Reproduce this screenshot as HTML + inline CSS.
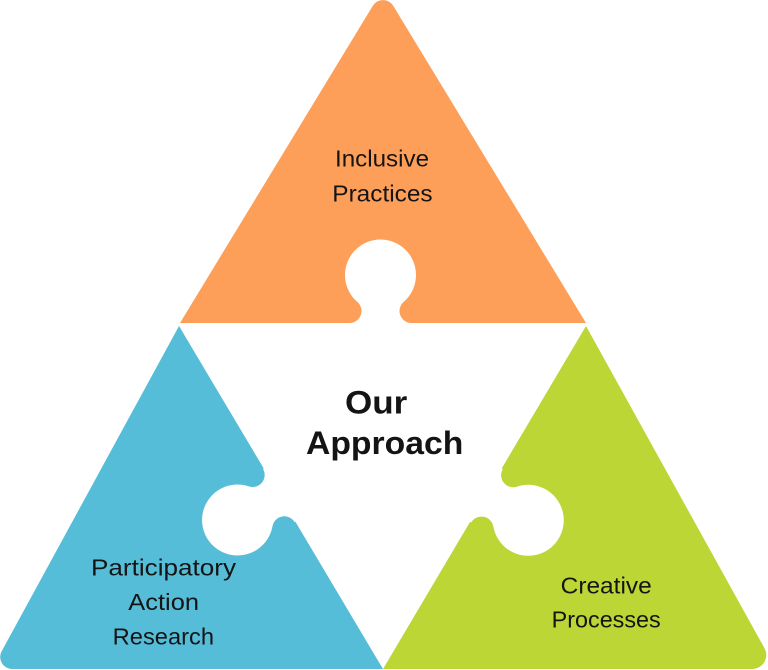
<!DOCTYPE html>
<html>
<head>
<meta charset="utf-8">
<style>
  html, body { margin: 0; padding: 0; background: #ffffff; }
  body { width: 768px; height: 670px; overflow: hidden; }
  svg { display: block; }
  text { font-family: "Liberation Sans", "DejaVu Sans", sans-serif; fill: #141414; }
  .lbl { font-size: 23px; }
  .ttl { font-size: 32px; font-weight: bold; }
</style>
</head>
<body>
<svg width="768" height="670" viewBox="0 0 768 670" xmlns="http://www.w3.org/2000/svg">
  <defs>
    <path id="sock" d="M -31 4 L -31 0 A 12 12 0 0 0 -23.17 -21.09 A 35.5 35.5 0 1 1 23.17 -21.09 A 12 12 0 0 0 31 0 L 31 4 Z"/>
  </defs>

  <!-- Orange (top) -->
  <path d="M 180 323 L 372.75 5.87 A 12 12 0 0 1 393.25 5.87 L 586 323 Z" fill="#FE9F59"/>
  <!-- Blue (bottom-left) -->
  <path d="M 179 326 L 383 669 L 12.2 669 A 12 12 0 0 1 1.67 651.26 Z" fill="#55BDD8"/>
  <!-- Green (bottom-right) -->
  <path d="M 586 326 L 764.48 648.2 A 14 14 0 0 1 752.2 669 L 383 669 Z" fill="#BBD635"/>

  <!-- Puzzle sockets (white tabs of the centre piece) -->
  <use href="#sock" fill="#ffffff" transform="translate(380.5,323)"/>
  <use href="#sock" fill="#ffffff" transform="translate(278.8,495.5) rotate(-120.7)"/>
  <use href="#sock" fill="#ffffff" transform="translate(487,495.8) rotate(120.7)"/>

  <!-- Labels -->
  <text class="lbl" x="335" y="166.7" textLength="94" lengthAdjust="spacingAndGlyphs">Inclusive</text>
  <text class="lbl" x="332.3" y="201.7" textLength="100.3" lengthAdjust="spacingAndGlyphs">Practices</text>

  <text class="ttl" x="345" y="413.3" textLength="62.3" lengthAdjust="spacingAndGlyphs">Our</text>
  <text class="ttl" x="306" y="454" textLength="157.3" lengthAdjust="spacingAndGlyphs">Approach</text>

  <text class="lbl" x="91" y="575.7" textLength="145" lengthAdjust="spacingAndGlyphs">Participatory</text>
  <text class="lbl" x="128.3" y="610" textLength="70.7" lengthAdjust="spacingAndGlyphs">Action</text>
  <text class="lbl" x="112.7" y="644.3" textLength="101.3" lengthAdjust="spacingAndGlyphs">Research</text>

  <text class="lbl" x="560.7" y="593.3" textLength="91" lengthAdjust="spacingAndGlyphs">Creative</text>
  <text class="lbl" x="551.7" y="627.3" textLength="109" lengthAdjust="spacingAndGlyphs">Processes</text>
</svg>
</body>
</html>
